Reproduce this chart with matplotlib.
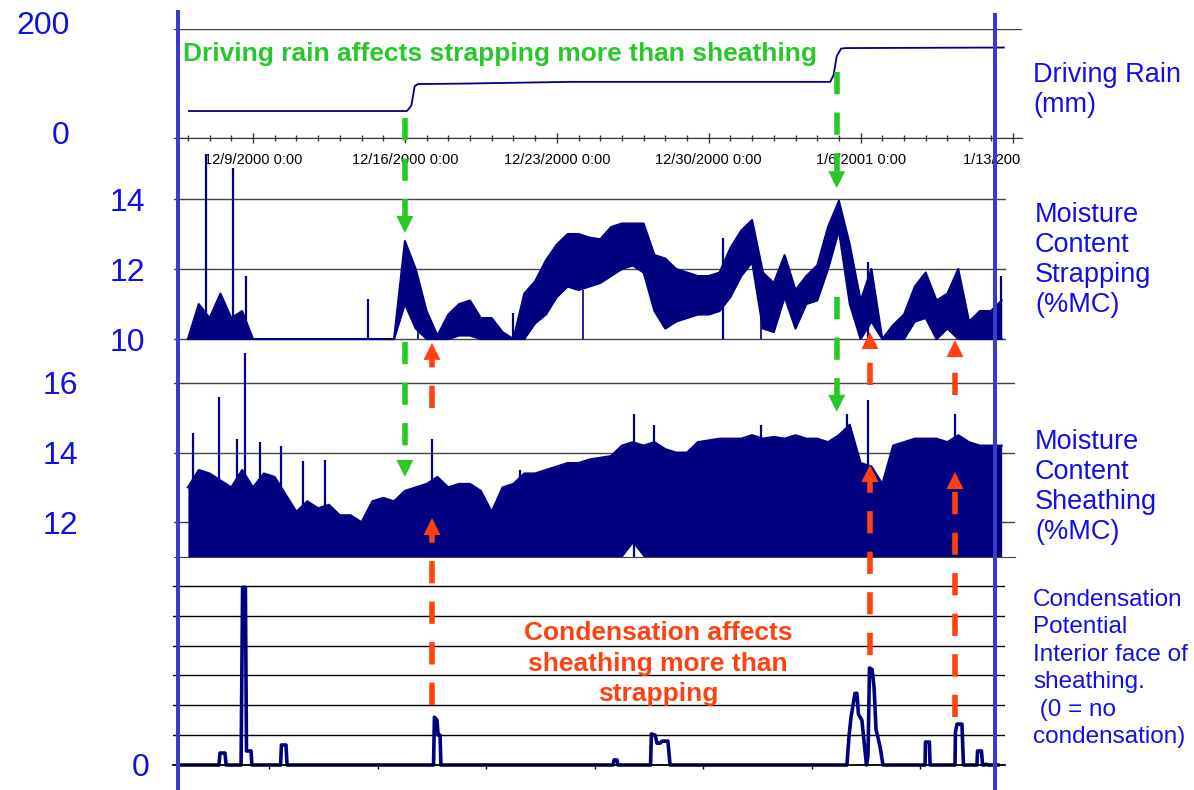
import numpy as np
import matplotlib
matplotlib.use("Agg")
import matplotlib.pyplot as plt
from matplotlib.transforms import Bbox, TransformedBbox, ScaledTranslation

plt.rcParams["font.family"] = ["Liberation Sans", "DejaVu Sans"]

# ---- data (x = days after 12/9/2000 0:00) ---------------------------------
SAMPLE_DAYS = np.arange(-3.0, 35.0, 0.5)      # envelope sampling grid

RAIN_DAY = [-2.95, 7.1, 7.3, 7.45, 7.6, 10.0, 14.6, 26.6, 26.75, 26.9, 27.1, 27.3, 34.6]
RAIN_MM = [49.5, 49.5, 60, 95, 99, 100, 103, 103, 115, 150, 164, 165, 166]

# moisture content of strapping: min / max per half day
STRAP_HI = [10.0, 11.0, 10.6, 11.3, 10.6, 10.8, 10.0, 10.0, 10.0, 10.0,
            10.0, 10.0, 10.0, 10.0, 10.0, 10.0, 10.0, 10.0, 10.0, 10.0,
            12.8, 12.0, 10.8, 10.1, 10.7, 11.0, 11.1, 10.6, 10.6, 10.2,
            10.0, 11.3, 11.65, 12.25, 12.7, 13.0, 13.0, 12.9, 12.85, 13.2,
            13.3, 13.3, 13.3, 12.4, 12.3, 12.0, 11.9, 11.8, 11.8, 11.9,
            12.6, 13.1, 13.4, 11.9, 11.6, 12.4, 11.4, 11.8, 12.1, 13.2,
            13.95, 12.7, 11.1, 12.0, 10.0, 10.4, 10.7, 11.5, 11.9, 11.1,
            11.3, 12.0, 10.5, 10.8, 10.8, 11.1]
STRAP_LO = [10.0, 10.0, 10.0, 10.0, 10.0, 10.0, 10.0, 10.0, 10.0, 10.0,
            10.0, 10.0, 10.0, 10.0, 10.0, 10.0, 10.0, 10.0, 10.0, 10.0,
            11.0, 10.3, 10.0, 10.0, 10.0, 10.1, 10.1, 10.0, 10.0, 10.0,
            10.0, 10.0, 10.45, 10.7, 11.2, 11.5, 11.4, 11.5, 11.6, 11.8,
            12.0, 12.1, 11.9, 10.8, 10.3, 10.5, 10.6, 10.7, 10.7, 10.8,
            11.2, 11.8, 12.2, 10.3, 10.2, 11.2, 10.3, 11.0, 11.1, 12.0,
            13.1, 11.0, 10.0, 10.5, 10.0, 10.0, 10.0, 10.5, 10.6, 10.0,
            10.3, 10.0, 10.0, 10.0, 10.0, 10.0]
STRAP_SPIKE_DAY = [-2.17, -0.9, -0.3, 5.3, 11.98, 21.66, 28.34, 34.47]
STRAP_SPIKE_MC = [15.3, 14.9, 11.8, 11.15, 10.75, 12.9, 12.2, 11.8]
STRAP_DIP_DAY = [7.6, 15.2, 23.4]
STRAP_DIP_TOP = [11.0, 11.4, 11.6]

# moisture content of sheathing
SHEATH_HI = [13.0, 13.5, 13.4, 13.2, 13.0, 13.5, 13.0, 13.4, 13.3, 12.8,
             12.3, 12.6, 12.4, 12.5, 12.2, 12.2, 12.0, 12.6, 12.7, 12.6,
             12.9, 13.0, 13.1, 13.3, 13.0, 13.1, 13.1, 12.9, 12.3, 13.0,
             13.1, 13.4, 13.4, 13.5, 13.6, 13.7, 13.7, 13.8, 13.85, 13.9,
             14.2, 14.3, 14.2, 14.3, 14.1, 14.0, 14.0, 14.3, 14.35, 14.4,
             14.4, 14.4, 14.5, 14.4, 14.45, 14.4, 14.5, 14.4, 14.4, 14.3,
             14.5, 14.8, 13.7, 13.6, 13.1, 14.2, 14.3, 14.4, 14.4, 14.4,
             14.3, 14.5, 14.3, 14.2, 14.2, 14.2]
SHEATH_LO = [11.0, 11.0, 11.0, 11.0, 11.0, 11.0, 11.0, 11.0, 11.0, 11.0,
             11.0, 11.0, 11.0, 11.0, 11.0, 11.0, 11.0, 11.0, 11.0, 11.0,
             11.0, 11.0, 11.0, 11.0, 11.0, 11.0, 11.0, 11.0, 11.0, 11.0,
             11.0, 11.0, 11.0, 11.0, 11.0, 11.0, 11.0, 11.0, 11.0, 11.0,
             11.0, 11.4, 11.0, 11.0, 11.0, 11.0, 11.0, 11.0, 11.0, 11.0,
             11.0, 11.0, 11.0, 11.0, 11.0, 11.0, 11.0, 11.0, 11.0, 11.0,
             11.0, 11.0, 11.0, 11.0, 11.0, 11.0, 11.0, 11.0, 11.0, 11.0,
             11.0, 11.0, 11.0, 11.0, 11.0, 11.0]
SHEATH_SPIKE_DAY = [-2.76, -1.57, -0.74, -0.37, 0.32, 1.29, 2.3, 3.32,
                    8.25, 12.3, 17.56, 18.5, 23.4, 27.37, 28.34, 32.35]
SHEATH_SPIKE_MC = [14.55, 15.6, 14.4, 16.87, 14.3, 14.2, 13.75, 13.8,
                   14.4, 13.5, 15.1, 14.8, 14.8, 15.1, 15.5, 15.1]

# condensation potential, interior face of sheathing
COND_DAY = [-3.36, -1.57, -1.52, -1.29, -1.24, -0.55, -0.48, -0.35, -0.30, -0.09,
            -0.05, 1.27, 1.31, 1.52, 1.57, 8.32, 8.36, 8.48, 8.53, 8.62,
            8.66, 16.59, 16.64, 16.77, 16.82, 18.32, 18.36, 18.53, 18.62, 18.76,
            18.85, 19.12, 19.22, 27.37, 27.47, 27.56, 27.74, 27.83, 27.90, 28.06,
            28.20, 28.27, 28.34, 28.41, 28.53, 28.62, 28.71, 28.90, 29.03, 30.97,
            30.99, 31.17, 31.20, 32.35, 32.37, 32.44, 32.67, 32.74, 33.36, 33.39,
            33.57, 33.62, 33.73, 33.78, 33.87, 34.33]
COND_VAL = [0, 0, 0.4, 0.4, 0, 0, 5.95, 5.95, 0.47, 0.47,
            0, 0, 0.67, 0.67, 0, 0, 1.6, 1.5, 1.0, 1.0,
            0, 0, 0.17, 0.17, 0, 0, 1.04, 1.0, 0.73, 0.73,
            0.8, 0.8, 0, 0, 1.0, 1.6, 2.4, 2.4, 1.7, 1.5,
            0.5, 0, 0.3, 3.25, 3.2, 2.6, 1.2, 0.6, 0, 0,
            0.77, 0.77, 0, 0, 1.1, 1.37, 1.37, 0, 0, 0.47,
            0.47, 0, 0, 0.03, 0, 0]

DATE_TICKS = [0, 7, 14, 21, 28, 35]
DATE_LABELS = ["12/9/2000 0:00", "12/16/2000 0:00", "12/23/2000 0:00",
               "12/30/2000 0:00", "1/6/2001 0:00", "1/13/2001 0:00"]
DAY_TICKS = list(range(-3, 36))
COND_TICKS = [0.74, 5.74, 10.74, 15.74, 20.74, 25.74, 30.74]

NAVY = "#000080"
BLUE = "#1010E6"
GREEN = "#28C828"
RED = "#FF4010"
FRAME = "#3A3ACC"
GRID = "#444444"

# ---- layout (pixel boxes of the slide) ------------------------------------
W, H = 1194, 790
DAY0_PX, PX_PER_DAY = 253.0, 21.7

fig = plt.figure(figsize=(W / 100, H / 100), dpi=100)


def panel(x0, x1, y0, y1):
    ax = fig.add_axes([x0 / W, 1 - y1 / H, (x1 - x0) / W, (y1 - y0) / H])
    ax.set_xlim((x0 - DAY0_PX) / PX_PER_DAY, (x1 - DAY0_PX) / PX_PER_DAY)
    ax.patch.set_alpha(0)
    for s in ax.spines.values():
        s.set_visible(False)
    ax.set_xticks([])
    ax.yaxis.grid(True, color=GRID, lw=1.0)
    ax.set_axisbelow(True)
    return ax


# driving rain
ax_r = panel(174, 1022, 29, 138)
ax_r.set_ylim(0, 200)
ax_r.set_yticks([0, 200], ["0", "200"])
ax_r.tick_params(axis="y", length=0, labelsize=23, labelcolor=BLUE, pad=75)
for lab in ax_r.get_yticklabels():
    lab.set_transform(lab.get_transform() + ScaledTranslation(0, 0.06, fig.dpi_scale_trans))
ax_r.spines["bottom"].set_visible(True)
ax_r.spines["bottom"].set_color("#333333")
ax_r.set_xticks(DATE_TICKS, DATE_LABELS)
ax_r.set_xticks(DAY_TICKS, minor=True)
ax_r.tick_params(axis="x", which="major", direction="inout", length=7, width=1,
                 color="#333333", labelsize=10.5, pad=7)
ax_r.tick_params(axis="x", which="minor", direction="inout", length=4, width=1,
                 color="#333333")
last = ax_r.get_xticklabels()[-1]
last.set_clip_box(TransformedBbox(Bbox.from_extents(0, 0, 1020 / W, 1), fig.transFigure))
last.set_clip_on(True)
ax_r.plot(RAIN_DAY, RAIN_MM, color=NAVY, lw=1.3)

# strapping
ax_s = panel(174, 1006, 150, 345)
ax_s.set_ylim(9.83, 15.4)
ax_s.set_yticks([10, 12, 14])
ax_s.tick_params(axis="y", length=0, labelsize=23, labelcolor=BLUE, pad=21)
ax_s.fill_between(SAMPLE_DAYS, STRAP_LO, STRAP_HI, color=NAVY, lw=0)
ax_s.plot(SAMPLE_DAYS, STRAP_HI, color=NAVY, lw=1.5)
ax_s.plot(SAMPLE_DAYS, STRAP_LO, color=NAVY, lw=1.5)
ax_s.vlines(STRAP_SPIKE_DAY, 10, STRAP_SPIKE_MC, color=NAVY, lw=1.6)
ax_s.vlines(STRAP_DIP_DAY, 10, STRAP_DIP_TOP, color=NAVY, lw=1.2)

# sheathing
ax_h = panel(174, 1015, 345, 557)
ax_h.set_ylim(11, 17.09)
ax_h.set_yticks([12, 14, 16])
ax_h.tick_params(axis="y", length=0, labelsize=23, labelcolor=BLUE, pad=69)
ax_h.spines["bottom"].set_visible(True)
ax_h.spines["bottom"].set_color(GRID)
ax_h.fill_between(SAMPLE_DAYS, SHEATH_LO, SHEATH_HI, color=NAVY, lw=0)
ax_h.plot(SAMPLE_DAYS, SHEATH_HI, color=NAVY, lw=1.5)
ax_h.vlines(SHEATH_SPIKE_DAY, 11, SHEATH_SPIKE_MC, color=NAVY, lw=1.6)

# condensation potential
ax_c = panel(173, 1005, 585, 765)
ax_c.set_ylim(0, 6.03)
ax_c.set_yticks(range(7), ["0", "", "", "", "", "", ""])
ax_c.tick_params(axis="y", length=0, labelsize=23, labelcolor=BLUE, pad=17)
ax_c.yaxis.grid(True, color="black", lw=1.0)
ax_c.spines["bottom"].set_visible(True)
ax_c.spines["bottom"].set_linewidth(1.3)
ax_c.set_xticks(COND_TICKS, [""] * len(COND_TICKS))
ax_c.tick_params(axis="x", direction="out", length=3, width=1)
ax_c.plot(COND_DAY, COND_VAL, color=NAVY, lw=2.6, clip_on=False,
          solid_joinstyle="round")

# ---- overlay: frame lines, annotations, series labels ---------------------
ax_o = fig.add_axes([0, 0, 1, 1], zorder=10)
ax_o.set_xlim(0, W)
ax_o.set_ylim(H, 0)
ax_o.axis("off")
ax_o.patch.set_alpha(0)

ax_o.plot([178, 178], [10, 790], color=FRAME, lw=2.9, solid_capstyle="butt")
ax_o.plot([995, 995], [13, 790], color=FRAME, lw=2.9, solid_capstyle="butt")


def to_px(ax, day, val):
    x, y = ax.transData.transform((day, val))
    return x, H - y


def dashed_arrow(ax_from, v_from, ax_to, v_to, day, color):
    x, y0 = to_px(ax_from, day, v_from)
    _, y1 = to_px(ax_to, day, v_to)
    sign = 1 if y1 > y0 else -1
    base = y1 - sign * 17
    ax_o.plot([x, x], [y0, base], color=color, lw=4, dashes=(4, 3.3),
              dash_capstyle="butt", solid_capstyle="butt")
    ax_o.fill([x - 8.5, x + 8.5, x], [base, base, y1], color=color, lw=0)


dashed_arrow(ax_r, 36.7, ax_s, 13.03, 7.0, GREEN)
dashed_arrow(ax_s, 9.91, ax_h, 13.3, 7.0, GREEN)
dashed_arrow(ax_r, 121, ax_s, 14.31, 26.9, GREEN)
dashed_arrow(ax_s, 11.2, ax_h, 15.17, 26.9, GREEN)
dashed_arrow(ax_c, 2.01, ax_h, 12.12, 8.25, RED)
dashed_arrow(ax_h, 15.28, ax_s, 9.89, 8.25, RED)
dashed_arrow(ax_c, 3.69, ax_h, 13.64, 28.43, RED)
dashed_arrow(ax_h, 15.94, ax_s, 10.2, 28.43, RED)
dashed_arrow(ax_c, 1.61, ax_h, 13.44, 32.35, RED)
dashed_arrow(ax_h, 15.66, ax_s, 9.97, 32.35, RED)

# multi-line texts: y is the baseline of the last line
ax_o.text(183, 61, "Driving rain affects strapping more than sheathing",
          color=GREEN, fontsize=19, fontweight="bold", va="baseline", ha="left")
ax_o.text(658, 701, "Condensation affects\nsheathing more than\nstrapping",
          color=RED, fontsize=19, fontweight="bold", va="baseline", ha="center",
          multialignment="center", linespacing=1.33)

ax_o.text(1033, 112, "Driving Rain\n(mm)", color=BLUE, fontsize=19.5,
          va="baseline", ha="left", linespacing=1.22)
ax_o.text(1035, 312, "Moisture\nContent\nStrapping\n(%MC)", color=BLUE,
          fontsize=19.5, va="baseline", ha="left", linespacing=1.2)
ax_o.text(1035, 539, "Moisture\nContent\nSheathing\n(%MC)", color=BLUE,
          fontsize=19.5, va="baseline", ha="left", linespacing=1.2)
ax_o.text(1033, 743, "Condensation\nPotential\nInterior face of\nsheathing.\n (0 = no\ncondensation)",
          color=BLUE, fontsize=17.5, va="baseline", ha="left", linespacing=1.32)

fig.savefig("out.png", dpi=100)
